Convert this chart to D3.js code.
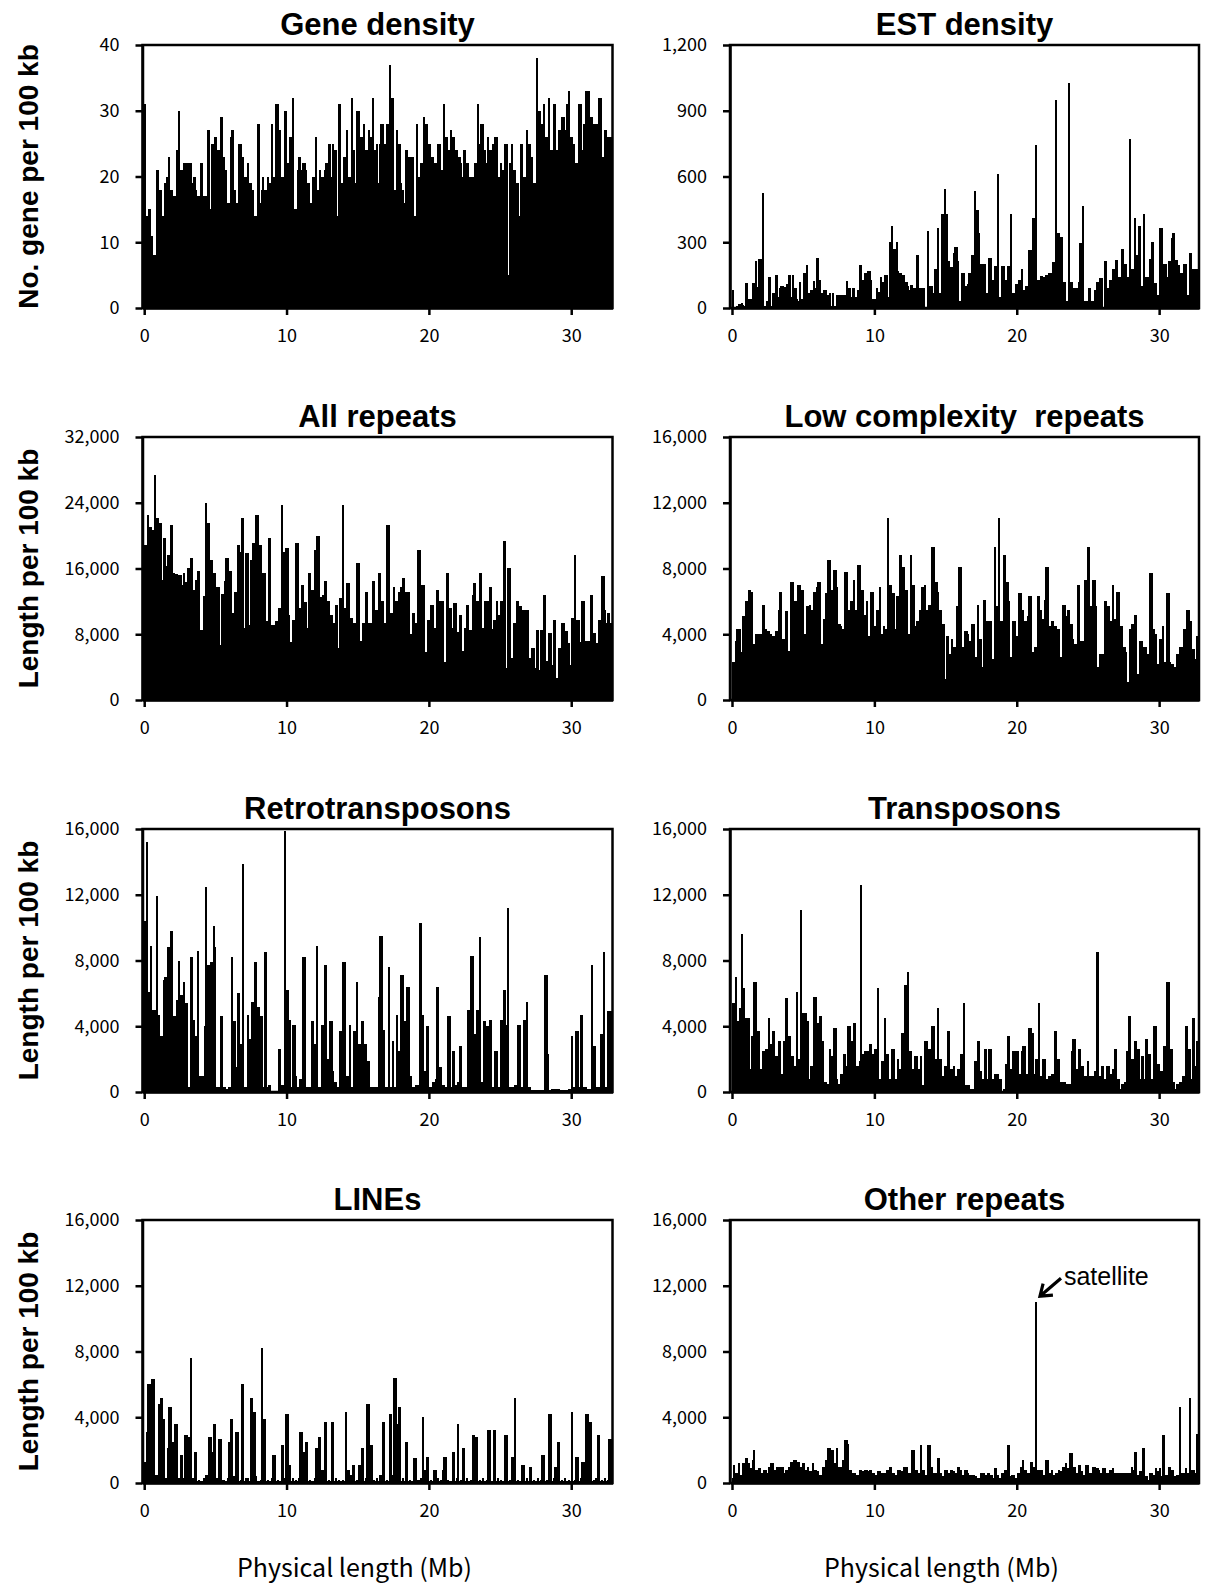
<!DOCTYPE html>
<html>
<head>
<meta charset="utf-8">
<script src="https://cdn.jsdelivr.net/npm/d3@7"></script>
<style>
  body { margin: 0; background: #fff; }
</style>
</head>
<body>
<div id="chart"></div>
<script>
// one value per 100 kb window, 0 - 32.8 Mb (10 values per Mb row)
var geneCounts = [
  31,14,14,15,11,11,8,8,21,21, 18,18,14,14,19,20,20,23,18,18,
  17,17,24,24,30,21,21,22,22,22, 18,22,22,19,20,20,18,17,17,22,
  22,17,17,17,27,27,15,25,25,26, 26,24,24,29,29,23,21,21,16,16,
  26,27,27,18,16,16,25,25,23,23, 20,20,22,19,19,18,18,14,14,28,
  28,16,18,20,18,18,20,19,19,28, 20,20,31,31,27,27,20,20,30,30,
  22,22,26,26,32,15,15,21,23,23, 21,22,22,21,19,19,16,16,20,20,
  26,18,18,21,20,20,21,22,22,25, 25,20,25,24,24,14,31,31,19,19,
  23,23,27,20,20,32,24,24,19,30, 30,26,26,24,28,24,24,27,26,26,
  32,24,24,25,19,25,28,28,25,25, 28,28,37,32,32,18,18,27,25,25,
  19,18,16,24,24,23,23,23,23,14, 14,28,20,20,22,22,29,28,28,25,
  25,23,23,22,22,21,25,25,21,21, 31,26,26,24,24,27,26,26,24,24,
  23,23,22,20,24,24,22,22,20,20, 20,20,22,22,31,25,28,28,24,24,
  22,26,24,24,25,25,26,26,20,20, 22,21,21,25,25,5,22,22,25,21,
  21,19,19,14,25,25,20,20,27,25, 25,23,23,19,19,38,30,30,28,28,
  31,26,26,24,32,24,24,31,31,24, 24,27,27,29,29,27,31,31,33,26,
  26,25,22,22,22,31,31,24,28,28, 33,33,33,29,29,28,28,28,28,32,
  32,23,23,27,27,26,26,26
];

var estCounts = [
  80,5,5,10,20,20,25,15,10,115, 115,40,40,40,115,115,215,95,225,95,
  225,525,10,10,30,140,140,10,70,70, 150,150,50,90,100,100,95,95,110,150,
  150,50,150,90,90,40,30,120,40,40, 160,160,195,70,70,80,80,125,90,230,
  230,130,70,70,80,80,60,60,70,10, 70,10,10,60,60,60,60,60,60,60,
  125,90,90,50,90,90,50,50,80,195, 195,130,110,160,160,170,170,130,40,40,
  40,90,75,75,140,120,120,150,150,50, 300,300,375,270,270,300,170,160,160,150,
  150,120,120,100,80,105,105,90,90,240, 240,90,90,90,90,0,0,350,100,100,
  100,70,180,180,365,70,70,430,430,545, 430,215,215,185,185,250,280,280,215,30,
  30,160,160,100,100,110,160,160,240,240, 535,445,445,340,200,200,200,200,70,70,
  230,230,130,130,190,190,610,50,50,190, 190,130,130,190,190,430,70,70,70,110,
  110,130,130,180,80,80,100,100,265,265, 110,410,410,745,130,130,145,145,140,140,
  150,150,160,160,160,210,210,950,340,340, 325,325,120,120,30,30,1025,120,120,90,
  90,90,90,120,295,295,465,30,30,30, 90,90,30,30,80,80,120,120,135,135,
  0,215,215,90,90,130,130,180,180,220, 220,140,140,270,270,200,200,140,140,770,
  180,180,410,240,240,375,375,100,100,430, 140,140,140,225,300,300,115,115,60,60,
  365,365,180,200,200,140,215,215,320,340, 340,220,220,195,160,160,140,200,200,60,
  60,250,250,180,180,180,180,180
];

// repeat lengths in kb per 100 kb window
var allRepeatsKb = [
  18.8,18.8,22.5,21,21,20.7,20.7,27.4,22.2,22.2, 21.5,21.5,14.6,19.7,19.7,16.3,17.6,17.6,21.3,21.3,
  15.5,15.3,15.3,14,15.2,15.2,14,15.4,14.3,14.3, 16.1,16.1,17.3,17.3,13.4,13.4,14.6,15.7,15.7,8.5,
  8.5,12.7,12.7,24,21.5,21.5,17,17,15.5,15.5, 13.7,13.7,13.7,6.7,12.9,12.9,14.5,17.3,17.3,15.7,
  15.7,10.6,10.6,13.1,13.1,18.8,18.8,18,22.2,22.2, 8.8,17.9,17.9,9.1,17,17,19.1,19.1,22.5,22.5,
  18.8,18.8,12.1,15.5,15.5,9.6,9.6,19.7,19.7,9.1, 9.1,9.1,9.6,9.6,11.2,11.2,23.7,18,18,18.5,
  18.5,10.3,7.1,7.1,9.7,9.7,19.1,19.1,11.2,11.2, 14,14,11.9,11.9,8.8,15.4,15.4,13.4,13.4,18.2,
  18.2,20,20,12.5,12.5,12.8,14.5,14.5,12.1,12.1, 10.4,10.4,9.4,9.4,11.6,11.6,6.3,12.4,12.4,23.7,
  11.2,11.2,14.2,14.2,10,10,5.1,9.4,9.4,16.7, 16.7,7.2,7.2,9.4,9.4,13.1,13.1,9.4,9.4,9.4,
  14.5,14.5,11,11,15.4,15.4,12,12,9.4,9.4, 21.3,21.3,5.1,10.6,10.6,13.7,12,12,13.2,13.2,
  13.7,14.8,14.8,13.1,13.1,13.1,8,8,10.6,10.6, 9.4,9.4,18.2,18.2,14,14,14,5.8,5.8,9.7,
  9.7,11.6,11.6,8.8,8.8,13.4,13.4,12,12,12, 4.6,4.6,15.4,15.4,11.2,11.2,8.7,11.8,11.8,8.3,
  8.3,10.3,10.3,6,6,8.8,11.6,11.6,8.5,8.5, 12.8,14.2,14.2,12.1,12.1,15.4,15.4,8.8,8.8,12.1,
  12.1,12.1,13.7,13.7,8.6,9.7,9.7,12.1,10.3,10.3, 12.1,12.1,19.4,19.4,3.9,16.1,16.1,5.1,5.1,9.4,
  9.4,12.1,12.1,11.4,11.4,11,11,10.9,10.9,10.9, 5.1,5.1,6.3,6.3,3.9,8.5,8.5,3.7,8.5,8.5,
  12.8,12.8,4.7,4.7,8.2,8.2,4.3,9.7,9.7,2.7, 2.7,6.3,6.3,9.4,9.4,8.4,8.4,6.9,6.9,4.3,
  10,10,17.6,9.7,9.7,9.7,7.1,12.1,12.1,3.7, 7.2,7.2,7.2,12.8,12.8,8.2,8.2,6.9,6.9,9.7,
  9.7,15.1,15.1,10.9,9.4,10.6,10.6,9.4
];

var lowComplexityKb = [
  2.3,2.3,3.6,4.3,4.3,4.3,2.9,5.1,5.1,6, 6,6.7,6.7,6.6,3.4,3.4,4,4,4,4,
  4,5.8,5.8,4.3,4.2,4.2,4,4,3.9,3.9, 4.2,4.2,5.5,6.6,6.6,3.7,3.7,5.4,5.4,3,
  3,7.2,7.2,6,6,6,7,7,6.7,6.7, 4,4,5.7,5.7,5.8,5.5,5.5,6.6,6.6,6.9,
  7.2,7.2,3.4,3.4,4.9,6.5,6.5,8.5,8.5,6.7, 6.7,7.9,7.9,6.9,4.6,4.6,4.5,4.3,4.3,7.8,
  7.8,5.5,5.5,6,6,7.3,5.5,5.5,8.2,8.2, 6.7,6.7,5.2,5.2,6,3.9,3.9,6.6,6.6,4.5,
  4.5,5.5,5.5,6.9,4,4,4.5,4.3,4.3,11.1, 7,7,6.5,6.5,4.3,6.3,6.3,8.8,8.8,8.1,
  8.1,6.7,6.7,4,4,8.8,7,7,4.5,4.8, 4.8,5.5,5.5,6.9,6.9,7,5.5,5.5,5.8,5.8,
  9.3,9.3,7.2,7.2,6.6,5.5,5.5,4.6,4.6,1.3, 3.9,3.9,2.8,2.8,3.7,3.2,3.2,5.7,5.7,8.1,
  8.1,3.2,3.2,4.2,4.2,4,3.6,3.6,4.6,4.6, 2.6,2.6,5.8,3.7,3.7,2,6.1,6.1,4.8,4.8,
  4.8,4.8,2.5,2.5,9.3,5.7,5.7,11.1,4.8,4.8, 8.8,8.8,7.2,7.2,6,2.6,2.6,4.8,4.8,3.9,
  3.9,6.5,6.5,5.5,5.5,4.8,4.8,5.1,6.3,6.3, 2.9,2.9,3.2,3.2,6.3,6.3,5.5,4.9,4.9,6.1,
  8.1,8.1,4.5,4.5,4.8,4.8,4.5,4.5,4.3,4.3, 2.6,2.6,5.8,5.8,5.1,5.5,5.5,4.6,4.6,3.7,
  3.4,3.4,7,7,3.6,3.6,3.6,7.3,7.3,9.3, 9.3,5.7,5.7,7.3,7.3,5.7,2,2,2.8,2.8,
  2.8,6,6,5.7,5.7,4.8,4.8,7,4.9,4.9, 6.6,6.6,4.5,4.5,3.2,3.2,2.9,1.1,1.1,4.3,
  4.6,4.6,5.2,5.2,1.6,1.6,3.6,3.6,3.2,3.2, 3.2,2.8,2.8,7.7,7.7,4.3,4.3,4,2.2,2.2,
  3.7,3.7,4.5,2.3,2.3,6.5,6.5,2.3,2.2,2.2, 2,2,2.8,2.8,3.2,3.2,3.2,4.3,4.3,5.5,
  5.5,4.8,4.8,3.1,3.1,2.5,3.9,3.9
];

var retrotransposonsKb = [
  10.4,15.2,6.1,6.1,8.9,5,5,5,11.9,4.7, 4.7,3.4,3.4,6.8,7,7,8.8,8.8,9.8,9.8,
  4.6,4.6,5.6,5.6,8,5.9,5.9,6.7,5.4,5.4, 0.3,0.3,8.2,8.2,4.4,3.4,3.4,8.6,1,1,
  1,1,4,12.5,7.7,7.7,7.9,7.9,10.1,8.8, 0.3,0.3,0.3,4.6,4.6,0.3,0.3,0.2,0.2,0.3,
  0.3,8.2,4.3,4.3,1.5,6,6,2.9,2.9,13.9, 0.3,0.3,4.7,3.2,3.2,5.5,5.5,7.9,7.9,5.2,
  5.2,4.6,4.6,0.3,8.5,8.5,0.3,0.4,0.4,0, 0,0,0,0,2.6,2.6,0.4,0.4,15.9,6.2,
  6.2,4.4,4.4,0.3,4.1,4.1,1,0.3,0.3,0.8, 0.8,8.2,8.2,0.3,0.3,0.3,0.3,4.3,4.3,2.9,
  2.9,8.9,0.3,0.3,4.1,4.1,7.7,7.7,2,2, 4.3,4.3,1.3,0.6,0.6,0.3,0.3,3.7,3.7,7.9,
  7.9,0.3,1,1,4.1,0.3,0.3,3.7,3.7,6.7, 2.9,2.9,4.3,4.3,2.9,2.9,1.9,1.9,0.3,0.3,
  0.3,0.3,0.3,0.3,5.8,9.5,9.5,3.8,3.8,0.3, 0.3,7.6,0.3,0.3,3.1,0.3,0.3,4.7,2.5,2.5,
  7.1,7.1,4.3,4.3,6.4,6.4,1,1,0.3,0.3, 0.4,0.4,0.4,10.3,10.3,4.7,1.3,1.3,4,4,
  0.3,0.3,0.6,0.6,0.8,6.4,6.4,1.5,1.5,0.4, 0.4,0.3,0.3,4.6,4.6,0.3,2.5,2.5,0.4,0.4,
  0.6,2.8,2.8,0.3,0.3,0.3,0.3,5,5,8.3, 8.3,3.5,3.5,5,5,9.4,0.6,0.6,4.3,4.3,
  4,4,4.4,4.4,0.3,0.3,2.5,2.5,0.3,0.3, 4.4,4.4,6.2,6.2,4.1,11.2,0.3,0.3,0.3,0.3,
  0.4,0.4,4.1,4.1,0.3,0.3,4.4,4.4,5.5,0.3, 0.3,0.1,0.1,0.1,0.1,0.1,0.1,0.1,0.1,0.1,
  0.1,7.1,7.1,2.3,0.1,0.1,0.2,0.2,0.2,0.2, 0.2,0.2,0.1,0.1,0.1,0.1,0.1,0.1,0.2,0.2,
  3.4,0.3,0.3,3.7,3.7,0.3,4.7,4.7,0.3,0.3, 0.3,0.2,0.2,0.2,7.7,2.8,2.8,0.3,0.3,0.3,
  3.5,3.5,8.5,0.3,0.3,4.9,4.9,4.9
];

var transposonsKb = [
  5.4,5.4,7,4.3,4.3,5.1,9.6,6.3,6.3,4.5, 4.5,4.5,1.4,3.4,3.4,6.7,6.7,3.7,3.7,1.4,
  1.4,2.5,2.5,2.6,2.6,4.5,2.9,2.9,3.7,3.7, 2.2,2.2,3.1,3.1,1.1,1.1,3.1,5.7,5.7,3.4,
  3.4,2.2,2.2,1.6,1.6,6.1,2,2,11.1,4.8, 4.8,4.8,4.3,4.3,0.8,1.6,1.6,5.8,5.8,4.2,
  4.2,4.6,4.6,3.1,0.6,0.6,0.5,0.5,2.6,2.2, 2.2,3.9,3.9,0.8,0.5,0.5,1.1,1.1,2.3,2.3,
  1.6,4,4,3.1,3.1,4.2,4.2,1.6,1.6,1.9, 12.6,2.3,2.3,2.5,2.5,2.5,2.9,2.9,2.3,2.3,
  2.6,2.6,6.3,0.8,0.8,1.9,1.9,4.5,2.3,2.3, 0.8,0.8,2.6,2.6,0.8,0.8,2,1.4,1.4,3.6,
  3.6,6.5,6.5,7.3,2.5,2.5,1.4,1.4,2.2,2.2, 1.4,1.4,2.2,0.4,0.4,3.1,3.1,0.2,2.6,2.6,
  4,4,2,2,5.1,2,2,1,1,1.6, 1.6,3.7,3.7,1.4,1.4,1.6,1,1,1.4,1.4,
  2.3,2.3,5.4,0.4,0.4,0.4,0.4,0.2,0.2,0.2, 1.9,1.9,3.1,3.1,1.3,0.8,0.8,2.6,2.6,0.8,
  2.6,2.6,0.8,0.8,1.1,1.1,1.1,0.8,0.8,0, 0.2,0.2,1.7,3.4,3.4,1.4,1.4,2.5,2.5,2.5,
  2.5,1.1,1.1,2.5,2.8,2.8,1.1,1.1,3.9,3.9, 3.6,3.6,1.1,2,2,5.4,1,1,2,2,
  0.8,0.8,1,1,1.1,1.1,3.7,3.7,2,2, 0.6,0.6,0.6,0.6,0.5,0.5,0.5,0.5,2.5,3.2,
  3.2,1.4,1.4,2.6,2.6,1.6,1.6,1,1,1.9, 1,1,1,1,1.3,1.3,8.5,1,1,1.6,
  1.6,0.8,0.8,1.6,1.6,1.1,1.1,1.4,2.6,2.6, 0.8,0.8,0.2,0.5,0.5,0.6,0.6,2.5,4.6,4.6,
  2,2,3.1,3.1,2.6,2.6,0.8,2.2,2.2,0.8, 3.2,3.2,2.3,2.3,0.8,0.8,4,4,1.7,1.7,
  1.3,1.3,0.2,2.8,2.8,6.7,6.7,2.6,2.6,0.6, 0.6,0.2,0.5,0.5,0.6,0.6,1,1,4,4,
  2.6,2.6,0.8,4.5,4.5,1.6,3.1,3.1
];

var linesKb = [
  1.3,3.1,6,6,3.4,6.3,6.3,0.5,0.5,0.3, 4.8,5.2,5.2,3.9,0.3,0.3,2.1,4.6,4.6,2.5,
  2.5,3.6,3.6,0.3,0.3,1.7,1.7,0.3,2.9,2.9, 2.8,2.8,7.6,0.3,0.3,1.9,1.9,0.1,0.2,0.1,
  0.1,0.3,0.1,0.5,0.5,2.8,2.8,1.9,3.6,3.6, 0.3,0.3,2.7,2.7,0.1,0.2,0.1,0.1,0.3,2.5,
  3.9,3.9,0.4,0.4,3.1,3.1,0.1,0.2,6,6, 0.1,0.3,0.3,0.1,5.2,5.2,4.3,4.3,0.4,0.1,
  0.1,0.2,8.2,3.9,3.9,0.1,0.2,0.1,0.1,0.3, 1.7,1.7,0.1,0.2,0.1,0.1,2.3,2.3,0.3,4.2,
  4.2,1.1,1.1,0.1,0.3,0.1,0.2,0.1,0.3,3.1, 3.1,1.9,1.9,2.5,2.5,0.1,0.2,0.1,0.1,0.3,
  2.1,2.1,2.8,2.8,0.8,0.8,3.7,3.7,0.1,0.2, 0.1,3.7,3.7,0.1,0.3,0.1,0.2,0.1,0.1,0.2,
  0.1,4.3,0.8,0.8,0.5,0.5,1.1,1.1,0.1,0.2, 1.1,1.1,2.1,2.1,0.1,0.3,4.8,4.8,2.3,2.3,
  0.1,0.2,0.1,0.3,0.1,0.5,0.5,3.7,3.7,0.1, 0.2,0.1,4.2,4.2,0.5,6.4,6.4,3.6,4.6,4.6,
  0.1,0.3,0.1,2.5,2.5,0.1,0.2,0.1,0.1,1.5, 1.5,0.1,0.2,0.1,0.3,4,0.8,0.8,1.6,1.6,
  0.1,0.2,0.1,0.8,0.8,0.1,0.3,0.1,0.2,0.8, 1.6,1.6,0.1,0.2,0.1,0.1,1.9,1.9,0.1,0.3,
  3.6,0.1,0.2,2.1,2.1,0.1,0.3,0.1,0.1,0.2, 2.9,2.9,2.8,2.8,0.1,0.2,0.1,0.3,0.1,0.1,
  0.2,3.2,3.2,0.1,0.1,3.2,3.2,0.1,0.3,0.1, 0.2,0.1,0.1,2.9,2.9,0.1,0.2,0.1,1.6,1.6,
  5.2,0.1,0.2,0.1,0.1,1.1,1.1,0.1,0.3,0.1, 1,1,0.1,0.2,0.1,0.1,0.3,0.1,0.2,1.7,
  1.7,0.1,0.2,0.1,4.2,4.2,0.1,0.3,1,1, 2.5,2.5,0.1,0.2,0.1,0.3,0.1,0.1,0.2,0.1,
  4.3,0.1,0.2,1.6,1.6,0.1,0.3,1.3,1.3,1.3, 4.2,4.2,3.7,3.7,0.1,0.2,0.1,0.3,2.9,2.9,
  0.1,0.2,0.1,0.3,0.1,0.2,2.7,2.7
];

var otherRepeatsKb = [
  0.3,1.1,0.6,0.6,1.2,0.5,0.5,1.2,1.2,1.5, 1.5,1.2,0.9,0.9,1.4,2,0.8,0.8,0.9,0.9,
  0.6,0.6,0.8,0.8,0.6,1,1,1.2,1.2,0.8, 0.8,1,1,0.9,1,1,0.6,0.8,0.8,1,
  1,1.3,1.3,1.4,1.4,1.3,1.3,1,1,1.2, 1.2,0.8,0.8,1,0.7,0.7,1.2,0.8,0.8,0.7,
  0.7,0.5,0.5,1,1,1.4,0.8,2.1,2.1,2, 2,1.2,1.2,2.1,1,1,1,1.4,1.4,2.6,
  2.6,2.4,0.8,0.8,0.6,0.6,0.6,0.5,0.5,0.8, 0.8,0.7,0.7,0.8,0.8,0.7,0.8,0.8,0.6,0.6,
  0.5,0.5,0.7,0.7,0.3,0.6,0.6,0.6,0.8,0.8, 1,1,0.6,0.6,0.5,0.5,0.8,0.8,0.7,0.7,
  1,1,1,0.6,0.6,0.6,2,2,0.8,0.8, 0.6,0.6,2.3,0.8,0.8,0.5,0.5,2.3,2.3,1,
  1,0.6,0.6,0.6,1.5,1.5,0.6,0.4,0.4,0.8, 0.8,0.6,0.6,0.8,0.8,0.7,0.6,0.6,1,1,
  0.8,0.5,0.5,0.8,0.8,0.6,0.5,0.5,0.5,0.5, 0.4,0.4,0.3,0.3,0.6,0.6,0.6,0.5,0.5,0.6,
  0.6,0.5,0.5,0.3,0.9,0.9,0.5,0.3,0.3,0.6, 0.6,0.8,0.8,2.3,2.3,0.4,0.5,0.5,0.3,0.3,
  0.6,0.6,1,1,1.4,0.8,0.8,0.6,0.6,1.3, 1.3,1,1,11,0.8,0.8,0.8,0.8,0.5,0.5,
  1.4,1.4,0.6,0.6,0.8,0.5,0.5,0.6,0.6,0.8, 0.7,0.7,1,1,1.2,0.9,0.9,1.8,1.8,1,
  1,0.6,0.6,1.1,1.1,0.7,0.5,0.5,1.1,1.1, 0.6,0.6,0.6,1,1,0.9,0.9,0.8,0.6,0.6,
  0.9,0.9,0.6,0.6,0.6,0.8,0.8,0.9,0.6,0.6, 0.6,0.6,0.6,0.6,0.6,0.6,0.6,0.6,0.6,0.6,
  1,0.8,1.9,1.9,0.5,0.5,0.7,0.7,2.1,2.1, 0.4,0.4,0.2,0.6,0.6,0.5,0.5,0.9,0.7,0.7,
  0.9,0.4,2.9,2.9,0.5,0.5,1,1,0.8,0.8, 0.4,0.4,0.5,0.5,4.6,0.6,0.6,0.6,0.9,0.6,
  0.6,5.2,0.8,0.8,0.8,0.6,3,3
];

var geneTicks = [0, 10, 20, 30, 40];
var estTicks = [0, 300, 600, 900, 1200];
var allRepeatTicks = [0, 8, 16, 24, 32];
var repeatTicks = [0, 4, 8, 12, 16];
var mbTicks = [0, 10, 20, 30];

var kbFormat = function(d) { return d3.format(",")(d * 1000); };

var panels = [
  {title: "Gene density", values: geneCounts, ticks: geneTicks, fmt: d3.format(","), row: 0, col: 0, ylabel: "No. gene per 100 kb"},
  {title: "EST density", values: estCounts, ticks: estTicks, fmt: d3.format(","), row: 0, col: 1},
  {title: "All repeats", values: allRepeatsKb, ticks: allRepeatTicks, fmt: kbFormat, row: 1, col: 0, ylabel: "Length per 100 kb"},
  {title: "Low complexity  repeats", values: lowComplexityKb, ticks: repeatTicks, fmt: kbFormat, row: 1, col: 1},
  {title: "Retrotransposons", values: retrotransposonsKb, ticks: repeatTicks, fmt: kbFormat, row: 2, col: 0, ylabel: "Length per 100 kb"},
  {title: "Transposons", values: transposonsKb, ticks: repeatTicks, fmt: kbFormat, row: 2, col: 1},
  {title: "LINEs", values: linesKb, ticks: repeatTicks, fmt: kbFormat, row: 3, col: 0, ylabel: "Length per 100 kb"},
  {title: "Other repeats", values: otherRepeatsKb, ticks: repeatTicks, fmt: kbFormat, row: 3, col: 1, satellite: 21.3}
];

var width = 1205;
var height = 1585;
var binMb = 0.1;

var cols = [
  {left: 142.5, right: 612.5, d0: -0.12, d1: 32.9},
  {left: 730, right: 1199, d0: -0.14, d1: 32.8}
];
var rowTops = [45, 437, 829, 1220];
var plotH = 263;

var tickFont = "'Noto Sans CJK KR', 'Noto Sans', sans-serif";
var boldFont = "'Liberation Sans', Arial, sans-serif";

var svg = d3.select("#chart").append("svg")
  .attr("width", width)
  .attr("height", height)
  .style("display", "block")
  .style("background", "#fff");

panels.forEach(function(p, k) {
  var c = cols[p.col];
  var top = rowTops[p.row];
  var bottom = top + plotH;

  var x = d3.scaleLinear().domain([c.d0, c.d1]).range([c.left, c.right]);
  var y = d3.scaleLinear().domain([0, p.ticks[p.ticks.length - 1]]).range([bottom, top]);

  var g = svg.append("g");

  g.append("clipPath").attr("id", "clip" + k)
    .append("rect")
    .attr("x", c.left).attr("y", top)
    .attr("width", c.right - c.left).attr("height", plotH);

  var barW = x(binMb) - x(0);

  g.append("g")
    .attr("clip-path", "url(#clip" + k + ")")
    .attr("shape-rendering", "crispEdges")
    .selectAll("rect")
    .data(p.values)
    .join("rect")
    .attr("x", function(d, i) { return x(i * binMb); })
    .attr("width", barW + 0.6)
    .attr("y", function(d) { return y(d); })
    .attr("height", function(d) { return y(0) - y(d); })
    .attr("fill", "#000");

  // frame
  g.append("rect")
    .attr("x", c.left).attr("y", top)
    .attr("width", c.right - c.left).attr("height", plotH)
    .attr("fill", "none").attr("stroke", "#000").attr("stroke-width", 2.5);

  var yAxis = d3.axisLeft(y).tickValues(p.ticks).tickFormat(p.fmt)
    .tickSize(7).tickSizeOuter(0).tickPadding(16);
  var ya = g.append("g").attr("transform", "translate(" + c.left + ",0)").call(yAxis);

  var xAxis = d3.axisBottom(x).tickValues(mbTicks).tickFormat(d3.format("d"))
    .tickSize(7).tickSizeOuter(0).tickPadding(14);
  var xa = g.append("g").attr("transform", "translate(0," + bottom + ")").call(xAxis);

  [ya, xa].forEach(function(a) {
    a.select(".domain").attr("stroke-width", 2.5);
    a.selectAll(".tick line").attr("stroke-width", 2.5);
    a.selectAll(".tick text")
      .style("font-family", tickFont)
      .style("font-size", "18px")
      .attr("fill", "#000");
  });

  g.append("text")
    .attr("x", (c.left + c.right) / 2)
    .attr("y", top - 10)
    .attr("text-anchor", "middle")
    .style("font-family", boldFont)
    .style("font-weight", "bold")
    .style("font-size", "31px")
    .style("white-space", "pre")
    .text(p.title);

  if (p.ylabel) {
    g.append("text")
      .attr("transform", "translate(28," + (top + plotH / 2) + ") rotate(-90)")
      .attr("text-anchor", "middle")
      .attr("dy", "0.35em")
      .style("font-family", boldFont)
      .style("font-weight", "bold")
      .style("font-size", "28px")
      .text(p.ylabel);
  }

  if (p.row === 3) {
    g.append("text")
      .attr("x", (c.left + c.right) / 2 - 23)
      .attr("y", 1568)
      .attr("dy", "0.35em")
      .attr("text-anchor", "middle")
      .style("font-family", tickFont)
      .style("font-size", "25px")
      .text("Physical length (Mb)");
  }

  if (p.satellite !== undefined) {
    var idx = Math.round(p.satellite / binMb);
    var sx = x(p.satellite) + barW / 2;
    var sy = y(p.values[idx]);
    var tip = [sx + 4, sy - 6];
    var tail = [sx + 25, sy - 24];
    var ang = Math.atan2(tail[1] - tip[1], tail[0] - tip[0]);
    var arm = 13, spread = 0.62;
    var a1 = [tip[0] + arm * Math.cos(ang + spread), tip[1] + arm * Math.sin(ang + spread)];
    var a2 = [tip[0] + arm * Math.cos(ang - spread), tip[1] + arm * Math.sin(ang - spread)];
    g.append("path")
      .attr("d", "M" + tail + "L" + tip + "M" + a1 + "L" + tip + "L" + a2)
      .attr("fill", "none").attr("stroke", "#000").attr("stroke-width", 3.2);
    g.append("text")
      .attr("x", sx + 28)
      .attr("y", sy - 17)
      .style("font-family", boldFont)
      .style("font-size", "25px")
      .text("satellite");
  }
});
</script>
</body>
</html>
